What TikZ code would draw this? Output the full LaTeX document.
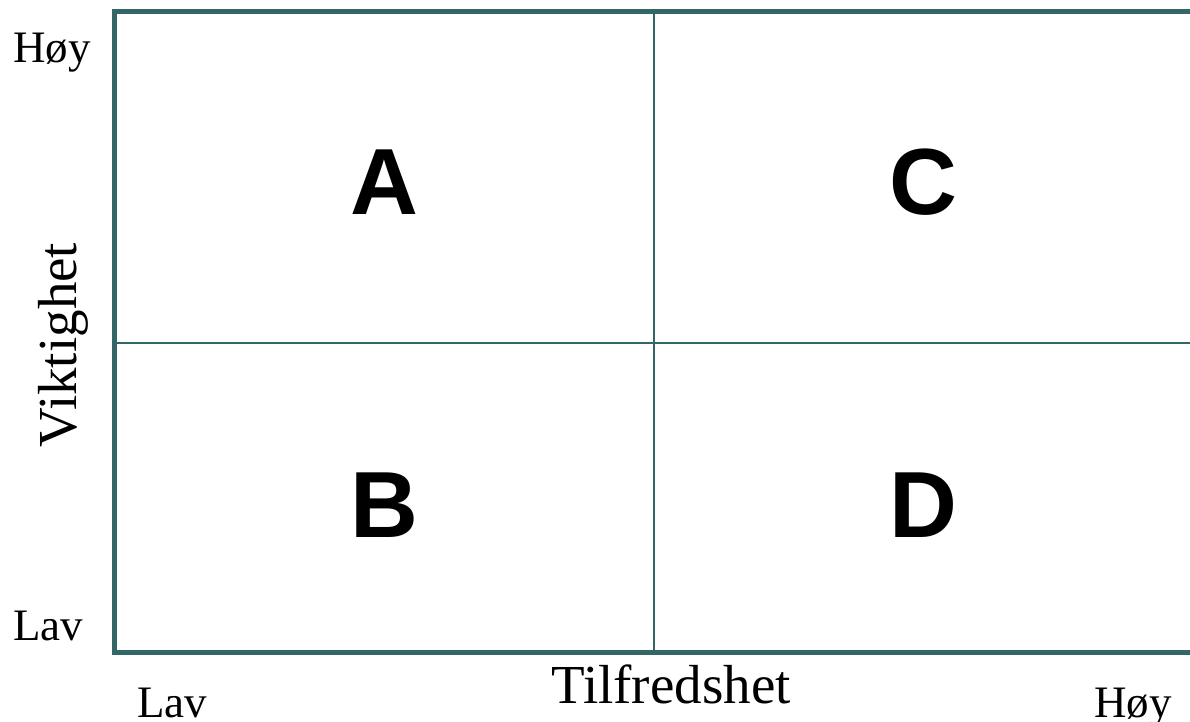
\documentclass[tikz,border=0pt]{standalone}
\usepackage{fontspec}
\setmainfont{Liberation Serif}
\newfontfamily\bokstavfont{Liberation Sans}
\definecolor{ramme}{HTML}{336666}
\tikzset{
  etikett/.style={font=\fontsize{45}{54}\selectfont, inner sep=0pt, anchor=base},
  akse/.style={font=\fontsize{55}{66}\selectfont, inner sep=0pt, anchor=base},
  felt/.style={font=\bokstavfont\bfseries\fontsize{94}{110}\selectfont, inner sep=0pt},
}
\begin{document}
\begin{tikzpicture}[x=1pt,y=-1pt]
        \useasboundingbox (0,0) rectangle (1190,722);
        % ytre ramme
        \draw[ramme, line width=5pt] (1190,11.5) -- (114.5,11.5) -- (114.5,652.5) -- (1190,652.5);
        \draw[ramme, line width=2pt] (654,11.5) -- (654,652.5);
        \draw[ramme, line width=2pt] (114.5,343) -- (1190,343);
        % feltene
        \node[felt] (A) at (384,182) {A};
        \node[felt] (C) at (923,182) {C};
        \node[felt] (B) at (384,505) {B};
        \node[felt] (D) at (923,505) {D};
        % aksene
        \node[etikett] (hoyV) at (52,63) {Høy};
        \node[etikett] (lavV) at (48,640) {Lav};
        \node[etikett] (lavT) at (172,717) {Lav};
        \node[etikett] (hoyT) at (1133,717) {Høy};
        \node[akse] (tilfreds) at (671,703) {Tilfredshet};
        \node[akse, rotate=90] (viktig) at (76,345) {Viktighet};
    \end{tikzpicture}
\end{document}
